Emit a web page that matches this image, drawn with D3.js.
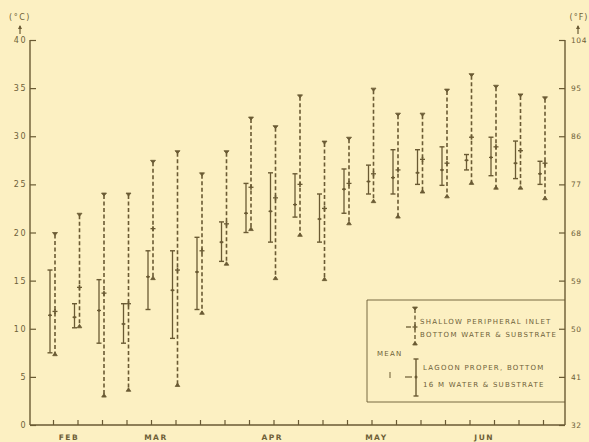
<!DOCTYPE html>
<html><head><meta charset="utf-8">
<script src="https://cdn.jsdelivr.net/npm/d3@7"></script>
<style>
html,body{margin:0;padding:0;background:#fcf0c2;}
svg{display:block;}
text{font-family:"DejaVu Sans",sans-serif;fill:#6e5f38;}
</style></head><body>
<svg id="c" width="589" height="442"></svg>
<script>
// ---- data ----
const weeks = d3.range(1, 22);            // weekly sampling positions 1..21
const monthLabels = ["FEB", "MAR", "APR", "MAY", "JUN"];
const monthAt = [1.65, 5.2, 9.95, 14.2, 18.6]; // week index under which month label sits
const celsiusTicks = [0, 5, 10, 15, 20, 25, 30, 35, 40];
const fahrenheitTicks = [32, 41, 50, 59, 68, 77, 86, 95, 104];
// Lagoon proper, bottom (16 m) water & substrate  (solid)
const lagoonMin  = [7.5,10.1,8.5,8.5,12.0,9.0,12.0,17.0,20.0,19.0,21.6,19.0,22.0,24.0,24.0,25.0,24.9,26.5,25.9,25.6,25.0];
const lagoonMean = [11.4,11.2,11.9,10.5,15.4,14.0,15.9,19.0,22.0,22.2,22.9,21.4,24.5,25.3,25.7,26.2,26.5,27.5,27.8,27.2,26.1];
const lagoonMax  = [16.1,12.6,15.1,12.6,18.1,18.1,19.5,21.1,25.1,26.2,26.1,24.0,26.6,27.0,28.6,28.6,28.9,28.1,29.9,29.5,27.4];
// Shallow peripheral inlet, bottom water & substrate (dashed)
const inletMin  = [7.2,10.1,2.9,3.5,15.1,4.0,11.5,16.6,20.2,15.1,19.6,15.0,20.8,23.1,21.5,24.1,23.6,25.0,24.5,24.5,23.4];
const inletMean = [11.8,14.3,13.7,12.6,20.4,16.1,18.1,20.9,24.7,23.6,25.0,22.5,25.1,26.1,26.5,27.6,27.2,29.9,28.9,28.5,27.2];
const inletMax  = [20.0,22.0,24.1,24.1,27.5,28.5,26.2,28.5,32.0,31.1,34.3,29.5,29.9,35.0,32.4,32.4,34.9,36.5,35.3,34.4,34.1];

// ---- drawing ----
const ink = "#6a5a33";
const svg = d3.select("#c");
const L = 30, R = 565, T = 40, B = 425;
const x = d3.scaleLinear().domain([1, 21]).range([53, 543]);
const y = d3.scaleLinear().domain([0, 40]).range([B, T]);
const yF = d3.scaleLinear().domain([32, 104]).range([B, T]);

const g = svg.append("g").attr("stroke", ink).attr("fill", "none");
g.append("line").attr("x1", L).attr("x2", L).attr("y1", T).attr("y2", B).attr("stroke-width", 1.4);
g.append("line").attr("x1", R).attr("x2", R).attr("y1", T).attr("y2", B).attr("stroke-width", 1.4);
g.append("line").attr("x1", L).attr("x2", R).attr("y1", B).attr("y2", B).attr("stroke-width", 1.4);

// left axis (ticks inward)
const la = svg.append("g").attr("transform", `translate(${L},0)`)
  .call(d3.axisRight(y).tickValues(celsiusTicks).tickSize(6).tickFormat(""));
la.select(".domain").remove();
la.selectAll("line").attr("stroke", ink).attr("stroke-width", 1.2);
svg.append("g").selectAll("text").data(celsiusTicks).join("text")
  .attr("x", 27).attr("y", d => y(d) + 3).attr("text-anchor", "end")
  .attr("font-size", 8).attr("letter-spacing", 1.5).text(d => d);

// right axis (ticks inward)
const ra = svg.append("g").attr("transform", `translate(${R},0)`)
  .call(d3.axisLeft(yF).tickValues(fahrenheitTicks).tickSize(6).tickFormat(""));
ra.select(".domain").remove();
ra.selectAll("line").attr("stroke", ink).attr("stroke-width", 1.2);
svg.append("g").selectAll("text").data(fahrenheitTicks).join("text")
  .attr("x", 571).attr("y", d => yF(d) + 3).attr("text-anchor", "start")
  .attr("font-size", 7.5).attr("letter-spacing", 0.6).text(d => d);

// bottom axis ticks (inward)
const ba = svg.append("g").attr("transform", `translate(0,${B})`)
  .call(d3.axisTop(x).tickValues(weeks).tickSize(5).tickFormat(""));
ba.select(".domain").remove();
ba.selectAll("line").attr("stroke", ink).attr("stroke-width", 1.2);
svg.append("g").selectAll("text").data(monthLabels).join("text")
  .attr("x", (d, i) => x(monthAt[i])).attr("y", 440).attr("text-anchor", "middle")
  .attr("font-size", 7.5).attr("font-weight", "bold").attr("letter-spacing", 1.5).text(d => d);

// unit labels
svg.append("text").attr("x", 20).attr("y", 20).attr("text-anchor", "middle")
  .attr("font-size", 8).attr("letter-spacing", 1.5).text("(°C)");
svg.append("text").attr("x", 579).attr("y", 20).attr("text-anchor", "middle")
  .attr("font-size", 8).attr("letter-spacing", 1).text("(°F)");
[[20, 26], [578, 26]].forEach(([ax, ay]) => {
  svg.append("line").attr("x1", ax).attr("x2", ax).attr("y1", ay).attr("y2", ay + 8)
    .attr("stroke", ink).attr("stroke-width", 1.2);
  svg.append("path").attr("d", `M${ax - 2},${ay + 3}L${ax},${ay - 1}L${ax + 2},${ay + 3}Z`).attr("fill", ink);
});

// solid ranges (lagoon)
const sol = svg.append("g").attr("stroke", ink).attr("fill", ink);
weeks.forEach((w, i) => {
  const cx = x(w) - 3;
  sol.append("line").attr("x1", cx).attr("x2", cx).attr("y1", y(lagoonMin[i])).attr("y2", y(lagoonMax[i])).attr("stroke-width", 1.3);
  [lagoonMin[i], lagoonMax[i]].forEach(v =>
    sol.append("line").attr("x1", cx - 2.5).attr("x2", cx + 2.5).attr("y1", y(v)).attr("y2", y(v)).attr("stroke-width", 1.4));
  sol.append("line").attr("x1", cx - 2).attr("x2", cx + 2).attr("y1", y(lagoonMean[i])).attr("y2", y(lagoonMean[i])).attr("stroke-width", 1.2);
  sol.append("circle").attr("cx", cx).attr("cy", y(lagoonMean[i])).attr("r", 1.3).attr("stroke", "none");
});

// dashed ranges (inlet)
const das = svg.append("g").attr("stroke", ink).attr("fill", ink);
weeks.forEach((w, i) => {
  const cx = x(w) + 2;
  const y0 = y(inletMin[i]), y1 = y(inletMax[i]), ym = y(inletMean[i]);
  das.append("line").attr("x1", cx).attr("x2", cx).attr("y1", y1 + 2).attr("y2", y0 - 2)
    .attr("stroke-width", 1.6).attr("stroke-dasharray", "4,2.5");
  das.append("path").attr("d", `M${cx - 2.5},${y1}L${cx + 2.5},${y1}L${cx},${y1 + 3}Z`).attr("stroke-width", 0.8);
  das.append("path").attr("d", `M${cx - 2.3},${y0}L${cx + 2.3},${y0}L${cx},${y0 - 3.5}Z`).attr("stroke-width", 0.8);
  das.append("line").attr("x1", cx - 2.5).attr("x2", cx + 2.5).attr("y1", ym).attr("y2", ym).attr("stroke-width", 1.3);
  das.append("line").attr("x1", cx).attr("x2", cx).attr("y1", ym - 2.5).attr("y2", ym + 2.5).attr("stroke-width", 1.6);
});

// legend
const lg = svg.append("g").attr("stroke", ink).attr("fill", ink);
lg.append("path").attr("d", `M${R},300L367,300L367,402L${R},402`).attr("fill", "none")
  .attr("stroke-width", 0.9);
{
  const cx = 415, t = 307, b = 345, m = 327;
  lg.append("line").attr("x1", cx).attr("x2", cx).attr("y1", t + 2).attr("y2", b - 2).attr("stroke-width", 1.4).attr("stroke-dasharray", "4,2.5");
  lg.append("path").attr("d", `M${cx - 2.5},${t}L${cx + 2.5},${t}L${cx},${t + 3}Z`).attr("stroke-width", 0.8);
  lg.append("path").attr("d", `M${cx - 2.3},${b}L${cx + 2.3},${b}L${cx},${b - 3.5}Z`).attr("stroke-width", 0.8);
  lg.append("line").attr("x1", cx - 2.5).attr("x2", cx + 2.5).attr("y1", m).attr("y2", m).attr("stroke-width", 1.3);
  lg.append("line").attr("x1", cx).attr("x2", cx).attr("y1", m - 2.5).attr("y2", m + 2.5).attr("stroke-width", 1.6);
  lg.append("line").attr("x1", 406).attr("x2", 411).attr("y1", m).attr("y2", m).attr("stroke-width", 1.3);
}
{
  const cx = 416, t = 359, b = 396, m = 377;
  lg.append("line").attr("x1", cx).attr("x2", cx).attr("y1", t).attr("y2", b).attr("stroke-width", 1.4);
  [t, b].forEach(v => lg.append("line").attr("x1", cx - 2.5).attr("x2", cx + 2.5).attr("y1", v).attr("y2", v).attr("stroke-width", 1.4));
  lg.append("circle").attr("cx", cx).attr("cy", m).attr("r", 1.5).attr("stroke", "none");
  lg.append("line").attr("x1", 405).attr("x2", 412).attr("y1", m).attr("y2", m).attr("stroke-width", 1.2);
  lg.append("line").attr("x1", 390).attr("x2", 390).attr("y1", 372).attr("y2", 378).attr("stroke-width", 1);
}
const lt = svg.append("g").attr("font-size", 7).attr("letter-spacing", 1.25);
lt.append("text").attr("x", 377).attr("y", 356).text("MEAN");
lt.append("text").attr("x", 420).attr("y", 324).text("SHALLOW PERIPHERAL INLET");
lt.append("text").attr("x", 420).attr("y", 337).text("BOTTOM WATER & SUBSTRATE");
lt.append("text").attr("x", 423).attr("y", 370).text("LAGOON PROPER, BOTTOM");
lt.append("text").attr("x", 423).attr("y", 387).text("16 M  WATER & SUBSTRATE");
</script>
</body></html>
